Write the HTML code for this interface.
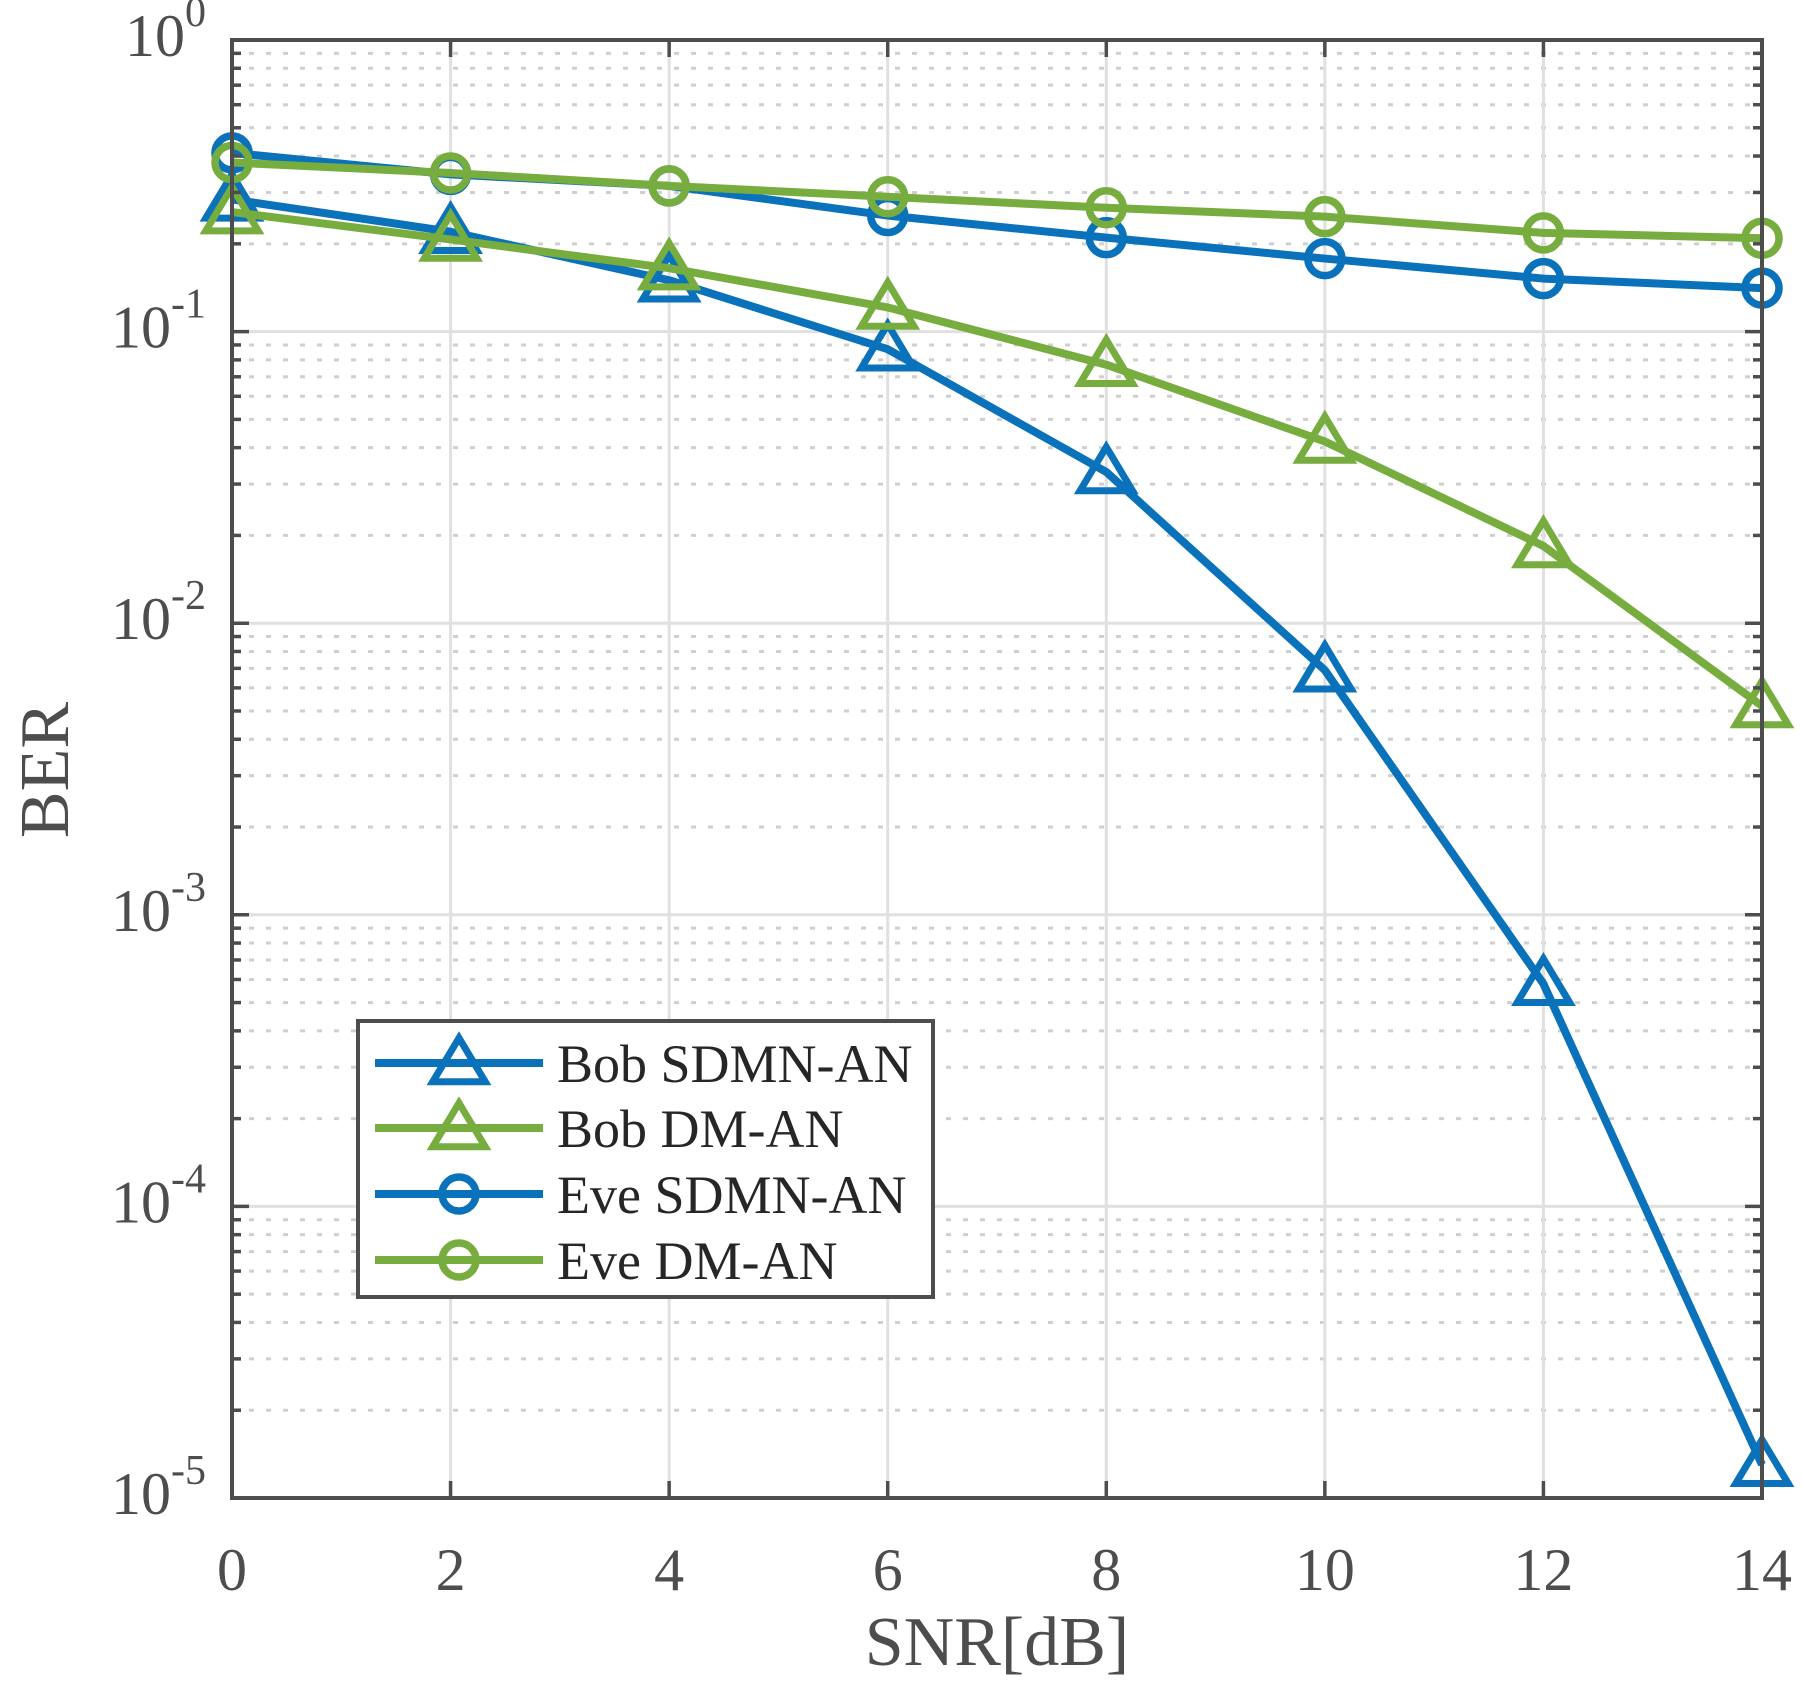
<!DOCTYPE html>
<html><head><meta charset="utf-8"><style>
html,body{margin:0;padding:0;background:#fff;}
svg{display:block;font-family:"Liberation Serif",serif;}
</style></head><body>
<svg id="chart" width="1803" height="1685" viewBox="0 0 1803 1685" xmlns="http://www.w3.org/2000/svg">
<g id="grid"></g>
<g id="series"></g>
<g id="axes"></g>
<text x="997" y="1665" font-size="70" text-anchor="middle" fill="#4d4d4d">SNR[dB]</text>
<text x="0" y="0" font-size="70" text-anchor="middle" fill="#4d4d4d" transform="translate(68,770) rotate(-90)">BER</text>
<g id="legend"></g>
</svg>
<script>
const xValues=[0,2,4,6,8,10,12,14];
const xTicks=[0,2,4,6,8,10,12,14];
const yTickExps=[0,-1,-2,-3,-4,-5];
const bobSDMN=[0.284,0.22,0.15,0.087,0.033,0.0069,0.00058,0.000013];
const bobDM=[0.257,0.207,0.165,0.121,0.077,0.042,0.0184,0.0052];
const eveSDMN=[0.41,0.346,0.316,0.25,0.21,0.178,0.152,0.141];
const eveDM=[0.38,0.35,0.316,0.29,0.266,0.248,0.218,0.209];
const seriesNames=["Bob SDMN-AN","Bob DM-AN","Eve SDMN-AN","Eve DM-AN"];

const L=232,R=1762,T=40,B=1498;
const NS="http://www.w3.org/2000/svg";
const BLUE="#0a72ba",GREEN="#77ac3f",AX="#4d4d4d";
function xs(v){return L+(v-0)/(14-0)*(R-L);}
function ys(v){return T+(0-Math.log10(v))/5*(B-T);}
function mk(tag,attrs,parent){const e=document.createElementNS(NS,tag);for(const k in attrs)e.setAttribute(k,attrs[k]);parent.appendChild(e);return e;}
const grid=document.getElementById('grid'),axes=document.getElementById('axes'),ser=document.getElementById('series'),leg=document.getElementById('legend');

for(let e=-5;e<0;e++){for(let m=2;m<=9;m++){const y=ys(m*Math.pow(10,e));
 const l=mk('line',{x1:L,x2:R,y1:y,y2:y,stroke:'#cfcfcf','stroke-width':3,'stroke-dasharray':'5 12'},grid);
 
 
 mk('line',{x1:L,x2:L+9,y1:y,y2:y,stroke:AX,'stroke-width':3.5},axes);
 mk('line',{x1:R,x2:R-9,y1:y,y2:y,stroke:AX,'stroke-width':3.5},axes);
}}
yTickExps.forEach(e=>{const y=ys(Math.pow(10,e));
 const l=mk('line',{x1:L,x2:R,y1:y,y2:y,stroke:'#e0e0e0','stroke-width':3},grid);
 
 
 mk('line',{x1:L,x2:L+17,y1:y,y2:y,stroke:AX,'stroke-width':3.5},axes);
 mk('line',{x1:R,x2:R-17,y1:y,y2:y,stroke:AX,'stroke-width':3.5},axes);
 const t=mk('text',{x:L-26,y:y+16,'font-size':60,'text-anchor':'end',fill:AX},axes);
 
 
 t.textContent='10';
 const s=mk('tspan',{dy:-30,'font-size':42},t);s.textContent=String(e);
});
xTicks.forEach(v=>{const x=xs(v);
 const l=mk('line',{x1:x,x2:x,y1:T,y2:B,stroke:'#e0e0e0','stroke-width':3},grid);
 
 
 mk('line',{x1:x,x2:x,y1:B,y2:B-17,stroke:AX,'stroke-width':3.5},axes);
 mk('line',{x1:x,x2:x,y1:T,y2:T+17,stroke:AX,'stroke-width':3.5},axes);
 const t=mk('text',{x:x,y:1590,'font-size':60,'text-anchor':'middle',fill:AX},axes);
 
 
 t.textContent=String(v);
});
const box=mk('rect',{x:L,y:T,width:R-L,height:B-T,fill:'none',stroke:AX,'stroke-width':4},axes);



function tri(g,x,y,c){const s=25;return mk('polygon',{points:`${x},${y-s} ${x-s*1.05},${y+s*0.75} ${x+s*1.05},${y+s*0.75}`,fill:'none',stroke:c,'stroke-width':7},g);}
function circ(g,x,y,c){return mk('circle',{cx:x,cy:y,r:17,fill:'none',stroke:c,'stroke-width':7.5},g);}
const defs=[[bobSDMN,BLUE,tri,'series-bob-sdmn'],[bobDM,GREEN,tri,'series-bob-dm'],[eveSDMN,BLUE,circ,'series-eve-sdmn'],[eveDM,GREEN,circ,'series-eve-dm']];
defs.forEach(([data,c,m,name])=>{
 const g=mk('g',{},ser);
 
 
 const pl=mk('polyline',{points:data.map((v,i)=>xs(xValues[i])+','+ys(v)).join(' '),fill:'none',stroke:c,'stroke-width':8,'stroke-linejoin':'round'},g);
 
 
 data.forEach((v,i)=>{const p=m(g,xs(xValues[i]),ys(v),c);
  
  });
});
const lb=mk('rect',{x:358,y:1021,width:575,height:276,fill:'#fff',stroke:AX,'stroke-width':4},leg);


const rowsY=[1063,1128,1194,1260];
defs.forEach(([d,c,m,name],i)=>{
 const g=mk('g',{},leg);
 
 
 const y=rowsY[i];
 mk('line',{x1:375,x2:543,y1:y,y2:y,stroke:c,'stroke-width':8},g);
 m(g,459,y,c);
 const t=mk('text',{x:557,y:y+19,'font-size':54,fill:'#262626'},g);
 t.textContent=seriesNames[i];
});
</script>
</body></html>
